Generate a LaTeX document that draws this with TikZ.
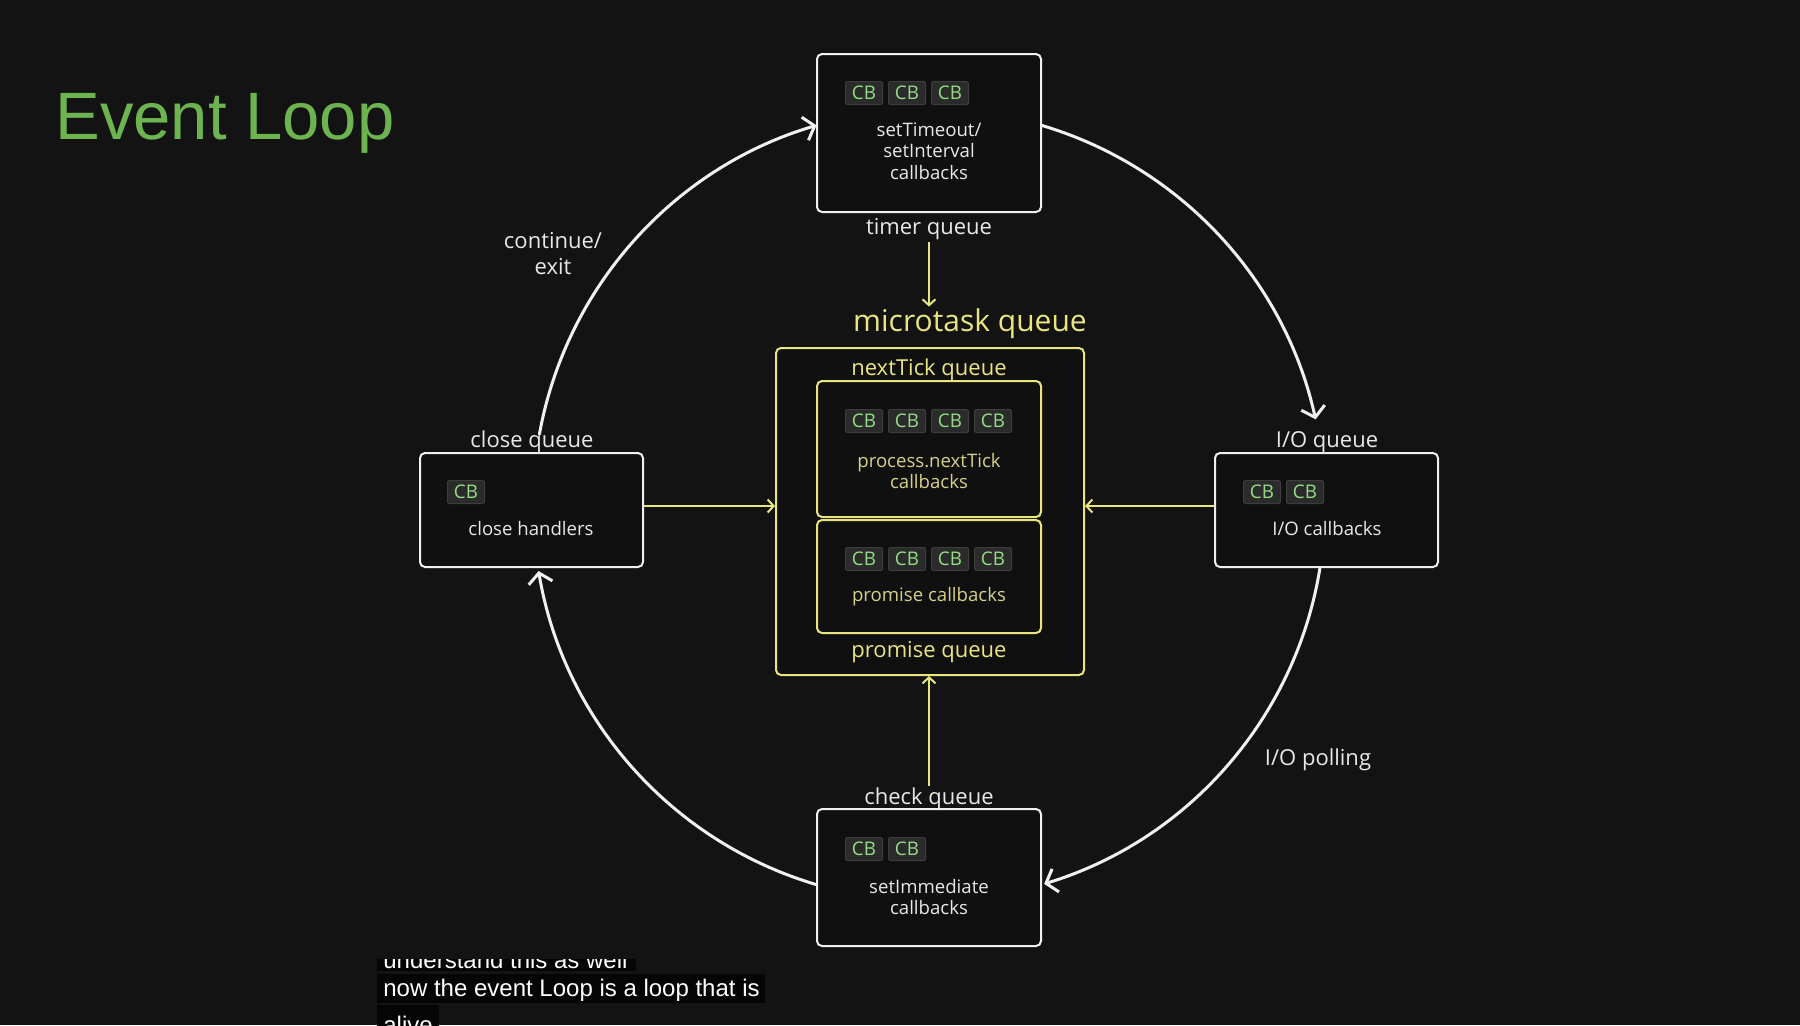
\documentclass[tikz,border=0pt]{standalone}
\usepackage{fontspec}
\setmainfont{Open Sans}
\newfontfamily\titlefont{Liberation Sans}
\newfontfamily\subfont{Liberation Sans}
\usetikzlibrary{arrows.meta}
\definecolor{pagebg}{HTML}{131313}
\definecolor{boxbg}{HTML}{101010}
\definecolor{linewhite}{HTML}{F0F0F0}
\definecolor{txtwhite}{HTML}{E8E8E8}
\definecolor{qyellow}{HTML}{E9E57F}
\definecolor{dimyellow}{HTML}{D6D189}
\definecolor{chipbg}{HTML}{2A2B2A}
\definecolor{chipborder}{HTML}{3C3E3C}
\definecolor{cbgreen}{HTML}{95DC86}
\definecolor{titlegreen}{HTML}{6DB451}
\definecolor{subbg}{HTML}{050505}
\begin{document}
\begin{tikzpicture}[x=0.5pt,y=-0.5pt,
  qbox/.style={draw=linewhite, line width=1pt, rounded corners=2.5pt, fill=boxbg, inner sep=0pt},
  ybox/.style={draw=qyellow, line width=1pt, rounded corners=2.5pt, fill=boxbg, inner sep=0pt},
  chip/.style={draw=chipborder, line width=0.5pt, fill=chipbg, rounded corners=1pt, minimum width=18.5pt, minimum height=11.5pt, inner sep=0pt, text=cbgreen, font=\fontsize{9.4}{10}\selectfont},
  boxtext/.style={text=txtwhite, align=center, inner sep=0pt, font=\fontsize{9.3}{10.75}\selectfont},
  yboxtext/.style={text=dimyellow, align=center, inner sep=0pt, font=\fontsize{9.3}{10.75}\selectfont},
  qlabel/.style={text=txtwhite, align=center, inner sep=1pt, font=\fontsize{11}{13}\selectfont},
  ylabel/.style={text=qyellow, align=center, inner sep=1pt, font=\fontsize{11}{13}\selectfont},
  cyc/.style={draw=linewhite, line width=1.5pt, line cap=round, -{Straight Barb[length=5pt,width=12pt,line width=1.5pt]}},
  yarrow/.style={draw=qyellow, line width=1pt, -{Straight Barb[length=3pt,width=6.5pt,line width=1pt]}},
  subtxt/.style={text=white, inner sep=0pt, anchor=base west, font=\subfont\fontsize{12}{14}\selectfont}
]
% page
\fill[pagebg] (0,0) rectangle (1800,1025);
\useasboundingbox (0,0) rectangle (1800,1025);

% title
\node[anchor=base west, inner sep=0pt, text=titlegreen, font=\titlefont\fontsize{33.5}{36}\selectfont] (title) at (55,139) {Event Loop};

% circle centre
\coordinate (C) at (929,505);

% loop arcs
\draw[cyc] ([shift={(-73.5:396)}]C) arc[start angle=-73.5, end angle=-12.5, radius=396];
\draw[cyc] ([shift={(9.2:396)}]C) arc[start angle=9.2, end angle=73.1, radius=396];
\draw[cyc] ([shift={(106.3:396)}]C) arc[start angle=106.3, end angle=170.4, radius=396];
\draw[cyc] ([shift={(190.3:396)}]C) arc[start angle=190.3, end angle=253.5, radius=396];

% timer box
\node[qbox, minimum width=112pt, minimum height=79pt] (timer) at (929,133) {};
\foreach \i/\x in {1/864,2/907,3/950} \node[chip] (tcb\i) at (\x,93) {CB};
\node[boxtext] (timertxt) at (929,151) {setTimeout/\\setInterval\\callbacks};
\node[qlabel] (timerq) at (929,229) {timer queue};

% close box
\node[qbox, minimum width=111.5pt, minimum height=57pt] (close) at (531.5,510) {};
\node[chip] (ccb1) at (466,492) {CB};
\node[boxtext] (closetxt) at (531,529) {close handlers};
\node[qlabel] (closeq) at (532,442) {close queue};

% io box
\node[qbox, minimum width=111.5pt, minimum height=57pt] (io) at (1326.5,510) {};
\foreach \i/\x in {1/1262,2/1305} \node[chip] (icb\i) at (\x,492) {CB};
\node[boxtext] (iotxt) at (1327,529) {I/O callbacks};
\node[qlabel] (ioq) at (1327,442) {I/O queue};

% check box
\node[qbox, minimum width=112pt, minimum height=68.5pt] (check) at (929,877.5) {};
\foreach \i/\x in {1/864,2/907} \node[chip] (kcb\i) at (\x,849) {CB};
\node[boxtext] (checktxt) at (929,897) {setImmediate\\callbacks};
\node[qlabel] (checkq) at (929,799) {check queue};

% microtask queue
\node[ybox, minimum width=154pt, minimum height=163.5pt] (outer) at (930,511.5) {};
\node[ylabel, font=\fontsize{15}{17}\selectfont] (microq) at (970,324) {microtask queue};
\node[ylabel] (ntq) at (929,370) {nextTick queue};
\node[ybox, minimum width=112pt, minimum height=68pt] (nt) at (929,449) {};
\foreach \i/\x in {1/864,2/907,3/950,4/993} \node[chip] (ncb\i) at (\x,421) {CB};
\node[yboxtext] (nttxt) at (929,471) {process.nextTick\\callbacks};
\node[ybox, minimum width=112pt, minimum height=56.5pt] (pr) at (929,576.5) {};
\foreach \i/\x in {1/864,2/907,3/950,4/993} \node[chip] (pcb\i) at (\x,559) {CB};
\node[yboxtext] (prtxt) at (929,597) {promise callbacks};
\node[ylabel] (prq) at (929,652) {promise queue};

% side labels
\node[qlabel] (cont) at (553,254) {continue/\\exit};
\node[qlabel] (poll) at (1318,760) {I/O polling};

% yellow connectors
\coordinate (closeout) at ([yshift=2pt]close.east);
\coordinate (ioout) at ([yshift=2pt]io.west);
\draw[yarrow] (timerq.south) -- (timerq.south |- microq.north);
\draw[yarrow] (closeout) -- (outer.west |- closeout);
\draw[yarrow] (ioout) -- (outer.east |- ioout);
\draw[yarrow] (checkq.north) -- (checkq.north |- outer.south);

% subtitles
\begin{scope}
\clip (370,959) rectangle (800,1025);
\fill[subbg] (377,940) rectangle (636,971);
\fill[subbg] (377,974) rectangle (765,1003);
\fill[subbg] (377,1005) rectangle (439,1040);
\node[subtxt] (sub1) at (383,968) {understand this as well};
\node[subtxt] (sub2) at (383,996) {now the event Loop is a loop that is};
\node[subtxt] (sub3) at (383,1033) {alive};
\end{scope}
\end{tikzpicture}
\end{document}
